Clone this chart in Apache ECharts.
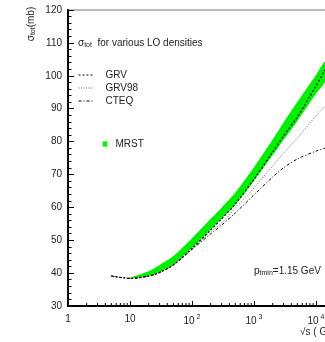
<!DOCTYPE html>
<html><head><meta charset="utf-8">
<script src="https://cdn.jsdelivr.net/npm/echarts@6/dist/echarts.min.js"></script>
<style>html,body{margin:0;padding:0;background:#fff}#c{width:325px;height:342px}</style>
</head><body><div id="c"></div>
<script>
// sqrt(s) in GeV
const sqrtS = [5,7,10,20,30,50,100,200,300,500,1000,2000,3000,5000,10000,14000];
const grv   = [39.1,38.7,38.4,39.1,40.2,42.5,47.5,53.1,56.5,61.0,68.6,76.8,81.7,87.5,96.9,101.8];
const grv98 = [39.1,38.7,38.4,39.1,40.2,42.5,47.3,52.5,55.2,59.8,65.9,72.6,76.5,81.1,87.8,90.8];
const cteq  = [39.1,38.7,38.4,39.1,40.2,42.5,47.2,51.9,54.6,58.3,63.8,69.2,72.0,74.7,77.1,78.0];
const mrstS    = [10,20,30,50,100,200,300,500,1000,2000,3000,5000,10000,14000];
const mrstLow  = [38.4,39.2,40.3,42.6,47.6,53.2,56.6,60.8,68.0,75.8,80.5,86.2,94.5,98.3];
const mrstHigh = [38.6,40.6,42.5,45.2,50.6,56.5,59.9,64.5,72.2,80.6,85.8,92.0,100.2,104.3];
const xTickVals = [1,10,100,1000,10000,100000];
const xTickText = ['1','10','10{s| 2}','10{s| 3}','10{s| 4}','10{s| 5}'];
const xMinorTicks = [2,3,4,5,6,7,8,9,20,30,40,50,60,70,80,90,200,300,400,500,600,700,800,900,
  2000,3000,4000,5000,6000,7000,8000,9000,20000,30000,40000,50000,60000,70000,80000,90000];

const FONT = "'Liberation Sans', Arial, Helvetica, sans-serif";
const TXT = '#222';
const GREEN = '#00ee00';
const chart = echarts.init(document.getElementById('c'), null, {renderer:'canvas'});
const pairs = (xs, ys) => xs.map((x, i) => [x, ys[i]]);
const rA = {fontSize:10, fontFamily:FONT, fill:TXT};
const rSub = {fontSize:7, fontFamily:FONT, fill:TXT, padding:[5,0,0,0]};

const option = {
  animation: false,
  grid: {left:68, top:10, width:310, bottom:36, show:true, borderColor:'#777', borderWidth:1,
         outerBoundsMode:'none', containLabel:false},
  xAxis: {
    type:'log', logBase:10, min:1, max:100000,
    axisLine:{onZero:false, lineStyle:{color:'#000', width:2}},
    axisTick:{inside:true, length:5, lineStyle:{color:'#000'}},
    splitLine:{show:false},
    axisLabel:{
      margin:8, fontSize:10, fontFamily:FONT, color:TXT,
      formatter: v => { const i = xTickVals.findIndex(t => Math.abs(Math.log10(t) - Math.log10(v)) < 1e-6); return i >= 0 ? xTickText[i] : ''; },
      rich:{s:{fontSize:7, fontFamily:FONT, color:TXT, padding:[0,0,7,0]}}
    }
  },
  yAxis: {
    type:'value', min:30, max:120, interval:10,
    axisLine:{show:true, lineStyle:{color:'#000', width:2}},
    axisTick:{show:true, inside:true, length:6, lineStyle:{color:'#000'}},
    minorTick:{show:true, splitNumber:5, length:3.5, lineStyle:{color:'#000'}},
    splitLine:{show:false},
    axisLabel:{margin:6, fontSize:10, fontFamily:FONT, color:TXT}
  },
  legend: [
    {data:['GRV','GRV98','CTEQ'], orient:'vertical', left:78, top:70, padding:0, itemGap:3,
     itemWidth:15, itemHeight:10, itemStyle:{opacity:0}, lineStyle:{width:1}, selectedMode:false,
     textStyle:{fontSize:10, lineHeight:10, fontFamily:FONT, color:TXT, padding:[0,0,0,7]}},
    {data:[{name:'MRST', icon:'rect', itemStyle:{color:GREEN, opacity:1}}], left:102.5, top:139, padding:0,
     itemWidth:5, itemHeight:5, selectedMode:false,
     textStyle:{fontSize:10, lineHeight:10, fontFamily:FONT, color:TXT, padding:[0,0,0,3]}}
  ],
  graphic: [
    {type:'text', x:31, y:24, rotation:Math.PI/2,
     style:{text:'{a|σ}{b|tot}{a|(mb)}', align:'center', verticalAlign:'middle', rich:{a:rA, b:rSub}}},
    {type:'text', x:78, y:43,
     style:{text:'{a|σ}{b|tot}{a|  for various LO densities}', align:'left', verticalAlign:'middle', rich:{a:rA, b:rSub}}},
    {type:'text', x:254, y:271,
     style:{text:'{a|p}{b|tmin}{a|=1.15 GeV}', align:'left', verticalAlign:'middle', rich:{a:rA, b:rSub}}},
    {type:'text', x:300, y:332,
     style:{text:'{a|√s ( GeV )}', align:'left', verticalAlign:'middle', rich:{a:rA}}}
  ],
  series: [
    {name:'MRST', type:'custom', color:GREEN, silent:true, z:1,
     data:[[mrstS[0], mrstLow[0]]], encode:{x:0, y:1},
     renderItem:(p, api) => {
       const lo = mrstS.map((s, i) => api.coord([s, mrstLow[i]]));
       const hi = mrstS.map((s, i) => api.coord([s, mrstHigh[i]])).reverse();
       return {type:'polygon', shape:{points:lo.concat(hi), smooth:0.25}, style:{fill:GREEN, stroke:null}};
     }},
    {name:'GRV98', type:'line', data:pairs(sqrtS, grv98), symbol:'none', smooth:0.3,
     lineStyle:{color:'#666', width:1, type:[1,1.5]}, z:3},
    {name:'CTEQ', type:'line', data:pairs(sqrtS, cteq), symbol:'none', smooth:0.3,
     lineStyle:{color:'#000', width:1, type:[3,2,1,2]}, z:3},
    {name:'GRV', type:'line', data:pairs(sqrtS, grv), symbol:'none', smooth:0.3,
     lineStyle:{color:'#000', width:1.2, type:[2,2]}, z:4},
    {name:'minorX', type:'custom', data:xMinorTicks.map(v => [v, 30]), encode:{x:0, y:1}, silent:true, clip:false, z:5,
     renderItem:(p, api) => { const c = api.coord([api.value(0), api.value(1)]);
       return {type:'line', shape:{x1:c[0], y1:c[1], x2:c[0], y2:c[1]-3}, style:{stroke:'#000', lineWidth:1}}; }}
  ]
};
chart.setOption(option);
</script></body></html>
